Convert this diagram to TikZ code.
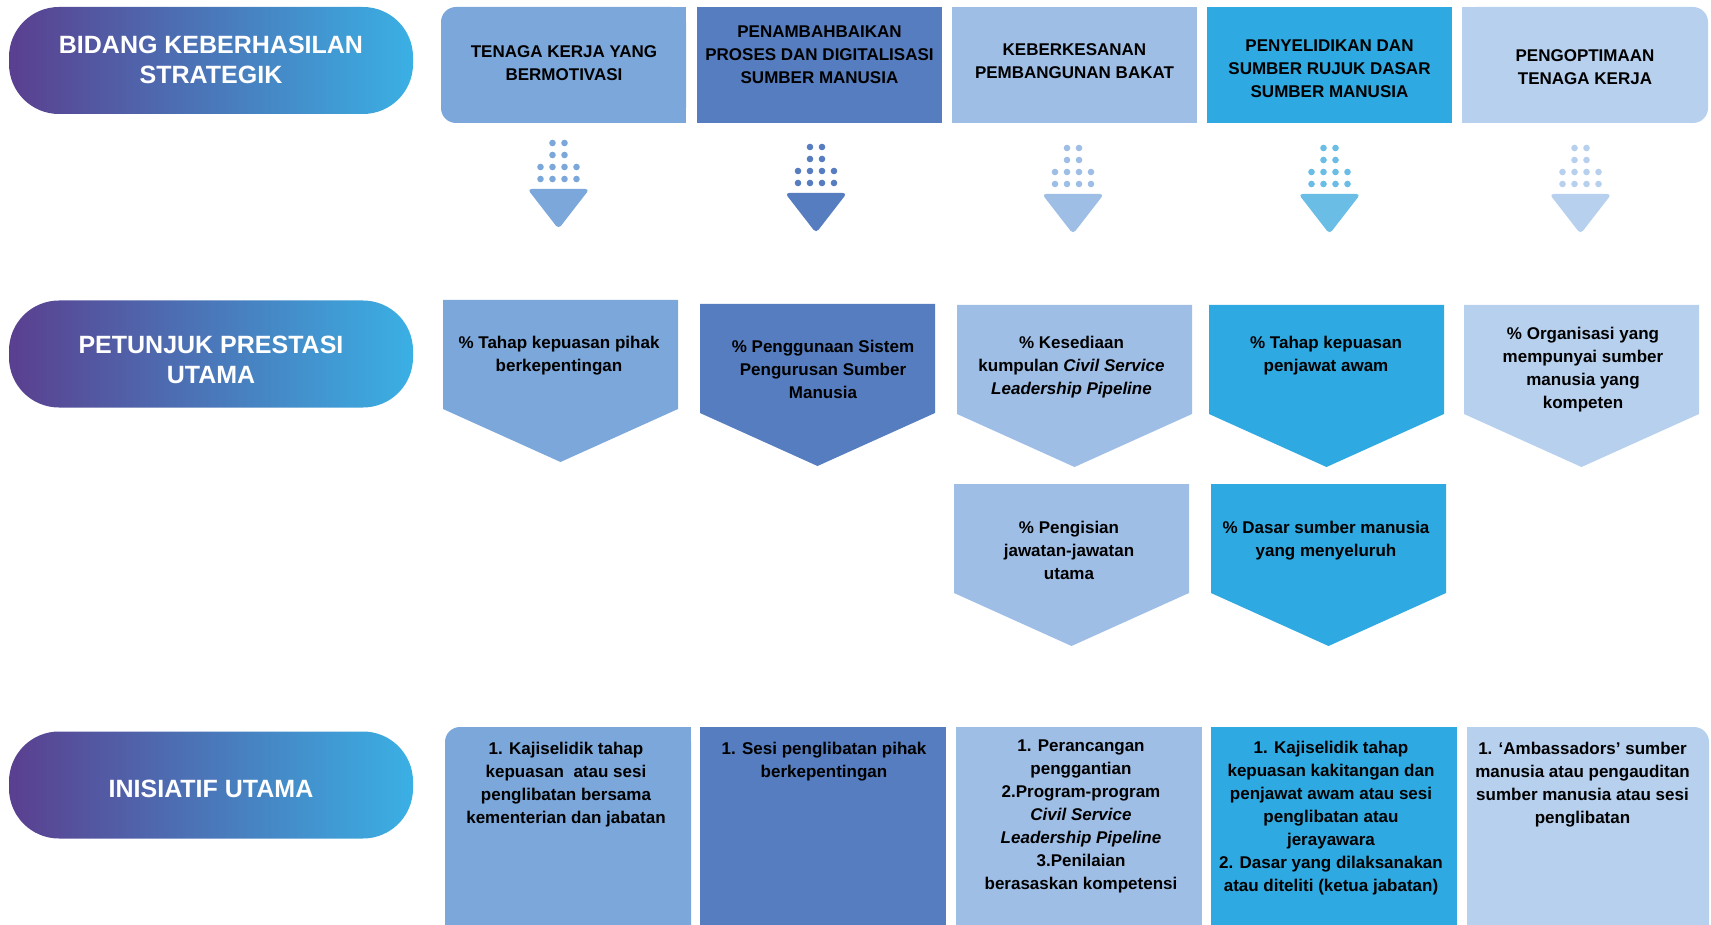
\documentclass[tikz,border=0pt]{standalone}
\usepackage{fontspec}
\setmainfont{Liberation Sans}

\definecolor{colA}{HTML}{7BA7DA}
\definecolor{colB}{HTML}{557DBF}
\definecolor{colC}{HTML}{9EBEE6}
\definecolor{colD}{HTML}{2EA9E1}
\definecolor{colE}{HTML}{B6D0EE}
\definecolor{tipD}{HTML}{6ABDE5}
\definecolor{pillL}{HTML}{5A3F8F}
\definecolor{pillR}{HTML}{3AB0E4}

\begin{document}
\begin{tikzpicture}[x=1pt,y=-1pt,
    pill/.style={rounded corners=50pt, minimum width=404pt, minimum height=107pt,
      left color=pillL, right color=pillR, inner sep=0pt},
    pilltext/.style={text=white, font=\fontsize{25}{30}\selectfont\bfseries, align=center, inner sep=0pt},
    headtext/.style={font=\fontsize{17}{23}\selectfont\bfseries, align=center, inner sep=0pt},
    bodytext/.style={font=\fontsize{17}{23}\selectfont\bfseries, align=center, inner sep=0pt, anchor=north}]

  \useasboundingbox (0,0) rectangle (1711,925);
  \clip (0,0) rectangle (1711,925);

  \node[pill] (bidang) at (211,60.5) {};
  \node[pilltext] (bidangtxt) at (211,60) {BIDANG KEBERHASILAN\\STRATEGIK};
  \node[pill] (petunjuk) at (211,354) {};
  \node[pilltext] (petunjuktxt) at (211,360) {PETUNJUK PRESTASI\\UTAMA};
  \node[pill] (inisiatif) at (211,785) {};
  \node[pilltext] (inisiatiftxt) at (211,789) {INISIATIF UTAMA};

  % bidang
  \fill[colA] (560,7) rectangle (686,123);
  \fill[colA,rounded corners=15pt] (441,7) rectangle (686,123);
  \fill[colB] (697,7) rectangle (942,123);
  \fill[colC] (952,7) rectangle (1197,123);
  \fill[colD] (1207,7) rectangle (1452,123);
  \fill[colE] (1462,7) rectangle (1600,123);
  \fill[colE,rounded corners=15pt] (1462,7) rectangle (1708,123);

  \node[headtext] (bidang1) at (564,63) {TENAGA KERJA YANG\\BERMOTIVASI};
  \node[headtext] (bidang2) at (819.5,55) {PENAMBAHBAIKAN\\PROSES DAN DIGITALISASI\\SUMBER MANUSIA};
  \node[headtext] (bidang3) at (1074.5,61) {KEBERKESANAN\\PEMBANGUNAN BAKAT};
  \node[headtext] (bidang4) at (1329.5,69) {PENYELIDIKAN DAN\\SUMBER RUJUK DASAR\\SUMBER MANUSIA};
  \node[headtext] (bidang5) at (1585,67) {PENGOPTIMAAN\\TENAGA KERJA};

  \foreach \cx/\cy/\cc in {558.5/143/colA, 816/147/colB, 1073/148/colC, 1329.5/148/tipD, 1580.5/148/colE} {
    \foreach \dx in {-6,6} \foreach \dy in {0,12}
      \fill[\cc] (\cx+\dx,\cy+\dy) circle (3.3pt);
    \foreach \dx in {-18,-6,6,18} \foreach \dy in {24,36}
      \fill[\cc] (\cx+\dx,\cy+\dy) circle (3.3pt);
    \fill[\cc,rounded corners=4pt] (\cx-31,\cy+46) -- (\cx+31,\cy+46) -- (\cx,\cy+86) -- cycle;
  }

  % petunjuk prestasi
  \foreach \xl/\yt/\cc in {443/300/colA, 700/304/colB, 957/305/colC, 1209/305/colD,
      1464/305/colE, 954/484/colC, 1211/484/colD}
    \fill[\cc] (\xl,\yt) -- (\xl+235,\yt) -- (\xl+235,\yt+109) -- (\xl+117.5,\yt+162)
      -- (\xl,\yt+109) -- cycle;

  \node[bodytext] (kpi1) at (559,336) {\% Tahap kepuasan pihak\\berkepentingan};
  \node[bodytext] (kpi2) at (823,340) {\% Penggunaan Sistem\\Pengurusan Sumber\\Manusia};
  \node[bodytext] (kpi3) at (1071.5,336) {\% Kesediaan\\kumpulan \textit{Civil Service}\\\textit{Leadership Pipeline}};
  \node[bodytext] (kpi4) at (1326,336) {\% Tahap kepuasan\\penjawat awam};
  \node[bodytext] (kpi5) at (1583,327) {\% Organisasi yang\\mempunyai sumber\\manusia yang\\kompeten};
  \node[bodytext] (kpi6) at (1069,521) {\% Pengisian\\jawatan-jawatan\\utama};
  \node[bodytext] (kpi7) at (1326,521) {\% Dasar sumber manusia\\yang menyeluruh};

  % inisiatif
  \fill[colA] (560,727) rectangle (691,945);
  \fill[colA,rounded corners=15pt] (445,727) rectangle (691,945);
  \fill[colB] (700,727) rectangle (946,945);
  \fill[colC] (956,727) rectangle (1202,945);
  \fill[colD] (1211,727) rectangle (1457,945);
  \fill[colE] (1467,727) rectangle (1600,945);
  \fill[colE,rounded corners=15pt] (1467,727) rectangle (1709,945);

  \node[bodytext] (ini1) at (566,742) {1. Kajiselidik tahap\\kepuasan\ \ atau sesi\\penglibatan bersama\\kementerian dan jabatan};
  \node[bodytext] (ini2) at (824,742) {1. Sesi penglibatan pihak\\berkepentingan};
  \node[bodytext] (ini3) at (1081,740) {1. Perancangan\\penggantian\\2.Program-program\\\textit{Civil Service}\\\textit{Leadership Pipeline}\\3.Penilaian\\berasaskan kompetensi};
  \node[bodytext] (ini4) at (1331,741) {1. Kajiselidik tahap\\kepuasan kakitangan dan\\penjawat awam atau sesi\\penglibatan atau\\jerayawara\\2. Dasar yang dilaksanakan\\atau diteliti (ketua jabatan)};
  \node[bodytext] (ini5) at (1582.5,742) {1. ‘Ambassadors’ sumber\\manusia atau pengauditan\\sumber manusia atau sesi\\penglibatan};
\end{tikzpicture}
\end{document}
